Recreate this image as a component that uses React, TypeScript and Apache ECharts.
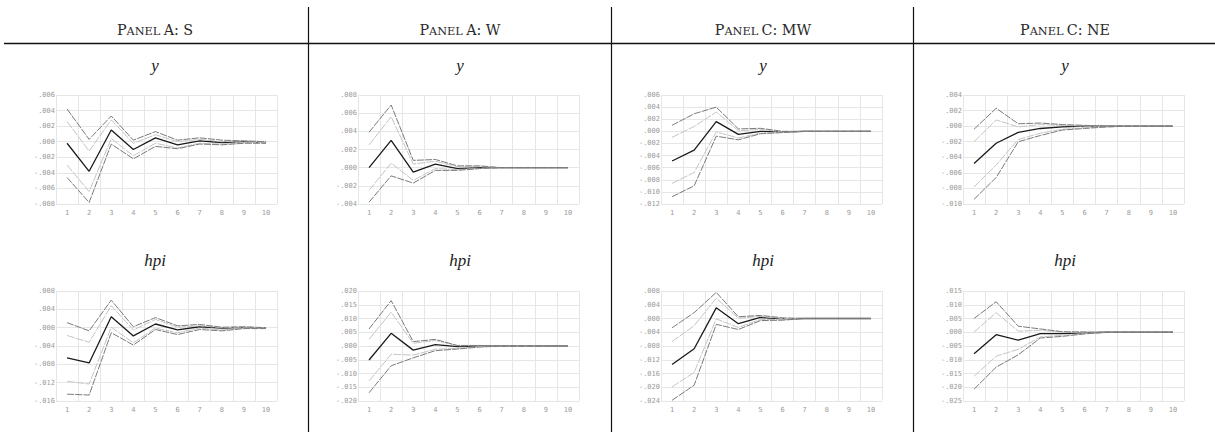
import React, { useEffect, useRef } from 'react';
import * as echarts from 'echarts';

// ---------- data ----------
const periods = ['1', '2', '3', '4', '5', '6', '7', '8', '9', '10'];
const panelNames = ['S', 'W', 'MW', 'NE'];
const panelLetters = ['A', 'A', 'C', 'C'];
const variables = ['y', 'hpi'];

// Panel A: S — y
const sYOuterHi = [0.0042, 0.0003, 0.0033, 0.0002, 0.0013, 0.0002, 0.0005, 0.0002, 0.0001, 0.0];
const sYInnerHi = [0.0026, -0.0012, 0.0028, -0.0002, 0.0009, 0.0, 0.0003, 0.0, 0.0001, 0.0];
const sYCenter = [-0.0002, -0.0038, 0.0015, -0.001, 0.0005, -0.0004, 0.0001, -0.0001, 0.0, -0.0001];
const sYInnerLo = [-0.003, -0.0064, 0.0004, -0.0018, -0.0002, -0.0008, -0.0002, -0.0003, -0.0001, -0.0001];
const sYOuterLo = [-0.0046, -0.0078, -0.0003, -0.0022, -0.0006, -0.0009, -0.0003, -0.0004, -0.0002, -0.0002];
// Panel A: S — hpi
const sHOuterHi = [0.0011, -0.0007, 0.006, 0.0002, 0.0022, 0.0004, 0.0007, 0.0001, 0.0002, 0.0];
const sHInnerHi = [-0.0017, -0.0032, 0.0048, -0.0005, 0.0018, 0.0001, 0.0004, 0.0, 0.0001, 0.0];
const sHCenter = [-0.0066, -0.0077, 0.0024, -0.0018, 0.0008, -0.0005, 0.0002, -0.0001, 0.0, 0.0];
const sHInnerLo = [-0.0117, -0.0123, 0.0001, -0.0033, -0.0001, -0.0011, -0.0001, -0.0005, -0.0001, -0.0001];
const sHOuterLo = [-0.0145, -0.0147, -0.0011, -0.0038, -0.0004, -0.0015, -0.0004, -0.0007, -0.0002, -0.0002];

// Panel A: W — y
const wYOuterHi = [0.0039, 0.0069, 0.0008, 0.0009, 0.0002, 0.0002, 0.0, 0.0, 0.0, 0.0];
const wYInnerHi = [0.0025, 0.0056, 0.0004, 0.0007, 0.0001, 0.0001, 0.0, 0.0, 0.0, 0.0];
const wYCenter = [0.0, 0.003, -0.0005, 0.0004, -0.0001, 0.0, 0.0, 0.0, 0.0, 0.0];
const wYInnerLo = [-0.0025, 0.0005, -0.0014, -0.0001, -0.0002, -0.0001, 0.0, 0.0, 0.0, 0.0];
const wYOuterLo = [-0.0038, -0.0009, -0.0017, -0.0003, -0.0003, -0.0001, 0.0, 0.0, 0.0, 0.0];
// Panel A: W — hpi
const wHOuterHi = [0.0062, 0.0165, 0.0016, 0.0024, 0.0002, 0.0002, 0.0, 0.0, 0.0, 0.0];
const wHInnerHi = [0.0024, 0.0123, 0.001, 0.002, 0.0001, 0.0001, 0.0, 0.0, 0.0, 0.0];
const wHCenter = [-0.0051, 0.0046, -0.0015, 0.0005, -0.0002, 0.0, 0.0, 0.0, 0.0, 0.0];
const wHInnerLo = [-0.0127, -0.003, -0.0033, -0.0012, -0.0009, -0.0002, 0.0, 0.0, 0.0, 0.0];
const wHOuterLo = [-0.017, -0.0072, -0.0043, -0.0017, -0.0011, -0.0004, 0.0, 0.0, 0.0, 0.0];

// Panel C: MW — y
const mYOuterHi = [0.001, 0.0029, 0.004, 0.0004, 0.0005, 0.0, 0.0, 0.0, 0.0, 0.0];
const mYInnerHi = [-0.001, 0.0008, 0.0032, 0.0001, 0.0003, -0.0001, 0.0, 0.0, 0.0, 0.0];
const mYCenter = [-0.0049, -0.0031, 0.0016, -0.0005, 0.0, -0.0001, 0.0, 0.0, 0.0, 0.0];
const mYInnerLo = [-0.0086, -0.0068, -0.0001, -0.0011, -0.0003, -0.0002, 0.0, 0.0, 0.0, 0.0];
const mYOuterLo = [-0.0108, -0.009, -0.0008, -0.0014, -0.0004, -0.0002, 0.0, 0.0, 0.0, 0.0];
// Panel C: MW — hpi
const mHOuterHi = [-0.0027, 0.0017, 0.0076, 0.0005, 0.0009, 0.0002, 0.0, 0.0, 0.0, 0.0];
const mHInnerHi = [-0.0067, -0.0021, 0.0059, 0.0001, 0.0006, 0.0, 0.0, 0.0, 0.0, 0.0];
const mHCenter = [-0.0134, -0.0088, 0.0031, -0.0015, 0.0003, -0.0001, 0.0, 0.0, 0.0, 0.0];
const mHInnerLo = [-0.0199, -0.0157, -0.0001, -0.0026, -0.0003, -0.0003, 0.0, 0.0, 0.0, 0.0];
const mHOuterLo = [-0.0238, -0.0194, -0.0017, -0.0032, -0.0006, -0.0005, 0.0, 0.0, 0.0, 0.0];

// Panel C: NE — y
const nYOuterHi = [-0.0004, 0.0023, 0.0003, 0.0004, 0.0002, 0.0001, 0.0, 0.0, 0.0, 0.0];
const nYInnerHi = [-0.002, 0.0008, -0.0001, 0.0002, 0.0001, 0.0, 0.0, 0.0, 0.0, 0.0];
const nYCenter = [-0.0048, -0.0022, -0.0008, -0.0003, -0.0001, 0.0, 0.0, 0.0, 0.0, 0.0];
const nYInnerLo = [-0.0078, -0.005, -0.0017, -0.0009, -0.0004, -0.0002, -0.0001, 0.0, 0.0, 0.0];
const nYOuterLo = [-0.0094, -0.0066, -0.002, -0.0012, -0.0005, -0.0003, -0.0001, 0.0, 0.0, 0.0];
// Panel C: NE — hpi
const nHOuterHi = [0.005, 0.0111, 0.0022, 0.0012, 0.0002, 0.0001, 0.0, 0.0, 0.0, 0.0];
const nHInnerHi = [0.0001, 0.0071, 0.0004, 0.0007, 0.0, 0.0, 0.0, 0.0, 0.0, 0.0];
const nHCenter = [-0.0078, -0.0009, -0.0029, -0.0005, -0.0005, -0.0002, 0.0, 0.0, 0.0, 0.0];
const nHInnerLo = [-0.016, -0.0087, -0.0062, -0.0017, -0.0011, -0.0005, 0.0, 0.0, 0.0, 0.0];
const nHOuterLo = [-0.0207, -0.0127, -0.0082, -0.0021, -0.0015, -0.0006, 0.0, 0.0, 0.0, 0.0];

// y-axis scales: [min, max, interval] per panel, for y and hpi
const yScales = [
  [-0.008, 0.006, 0.002],
  [-0.004, 0.008, 0.002],
  [-0.012, 0.006, 0.002],
  [-0.01, 0.004, 0.002],
];
const hpiScales = [
  [-0.016, 0.008, 0.004],
  [-0.02, 0.02, 0.005],
  [-0.024, 0.008, 0.004],
  [-0.025, 0.015, 0.005],
];

const subplotData = [
  [
    [sYOuterLo, sYInnerLo, sYCenter, sYInnerHi, sYOuterHi],
    [sHOuterLo, sHInnerLo, sHCenter, sHInnerHi, sHOuterHi],
  ],
  [
    [wYOuterLo, wYInnerLo, wYCenter, wYInnerHi, wYOuterHi],
    [wHOuterLo, wHInnerLo, wHCenter, wHInnerHi, wHOuterHi],
  ],
  [
    [mYOuterLo, mYInnerLo, mYCenter, mYInnerHi, mYOuterHi],
    [mHOuterLo, mHInnerLo, mHCenter, mHInnerHi, mHOuterHi],
  ],
  [
    [nYOuterLo, nYInnerLo, nYCenter, nYInnerHi, nYOuterHi],
    [nHOuterLo, nHInnerLo, nHCenter, nHInnerHi, nHOuterHi],
  ],
];

// ---------- layout ----------
const gridLefts = [56, 358, 661, 963];
const gridWidth = 221;
const gridTops = [95, 291];
const gridHeights = [109, 110];
const panelCenters = [155, 460, 763, 1065];
const dividerXs = [308.5, 611.5, 913.5];
const subtitleYs = [65, 260];

const gridColor = '#e6e6e6';
const labelColor = '#9a9a9a';
const monoFont = 'DejaVu Sans Mono';
const serifFont = "'Liberation Serif', 'Times New Roman', serif";

const fmt = (v: number) => {
  const s = Math.abs(v).toFixed(3).replace(/^0/, '');
  return (v < -1e-9 ? '-' : '') + s;
};

const bandStyles = [
  { color: '#7a7a7a', width: 1, type: [7, 1.2] },
  { color: '#c4c4c4', width: 1, type: [8, 1.2] },
  { color: '#1a1a1a', width: 1.3, type: 'solid' },
  { color: '#c4c4c4', width: 1, type: [8, 1.2] },
  { color: '#7a7a7a', width: 1, type: [7, 1.2] },
];
const bandZ = [4, 3, 2, 3, 4];

function buildOption() {
  const grid: any[] = [];
  const xAxis: any[] = [];
  const yAxis: any[] = [];
  const series: any[] = [];
  const graphic: any[] = [];

  for (let p = 0; p < 4; p++) {
    for (let v = 0; v < 2; v++) {
      const idx = grid.length;
      grid.push({
        left: gridLefts[p],
        top: gridTops[v],
        width: gridWidth,
        height: gridHeights[v],
        containLabel: false,
      });
      xAxis.push({
        type: 'category',
        gridIndex: idx,
        data: periods,
        boundaryGap: true,
        axisLine: { show: false },
        axisTick: { show: false },
        axisLabel: {
          interval: 0,
          fontSize: 7,
          color: labelColor,
          fontFamily: monoFont,
          margin: 5,
        },
        splitLine: { show: true, interval: 0, lineStyle: { color: gridColor, width: 1 } },
      });
      const sc = v === 0 ? yScales[p] : hpiScales[p];
      yAxis.push({
        type: 'value',
        gridIndex: idx,
        min: sc[0],
        max: sc[1],
        interval: sc[2],
        axisLine: { show: false },
        axisTick: { show: false },
        axisLabel: {
          formatter: fmt,
          fontSize: 7,
          color: labelColor,
          fontFamily: monoFont,
          margin: 1,
        },
        splitLine: { show: true, lineStyle: { color: gridColor, width: 1 } },
      });
      subplotData[p][v].forEach((arr, k) => {
        series.push({
          type: 'line',
          xAxisIndex: idx,
          yAxisIndex: idx,
          data: arr,
          symbol: 'none',
          showSymbol: false,
          z: bandZ[k],
          lineStyle: bandStyles[k],
          silent: true,
        });
      });
      graphic.push({
        type: 'text',
        x: panelCenters[p],
        y: subtitleYs[v],
        style: {
          text: variables[v],
          fontFamily: serifFont,
          fontStyle: 'italic',
          fontSize: 17,
          fill: '#222',
          align: 'center',
          verticalAlign: 'middle',
        },
      });
    }
    graphic.push({
      type: 'text',
      x: panelCenters[p],
      y: 28,
      style: {
        text: `{a|P}{b|ANEL} {a|${panelLetters[p]}: ${panelNames[p]}}`,
        rich: {
          a: { fontFamily: 'DejaVu Serif', fontSize: 14.3, fill: '#2a2a2a', verticalAlign: 'bottom', lineHeight: 17 },
          b: { fontFamily: 'DejaVu Serif', fontSize: 11.3, fill: '#2a2a2a', verticalAlign: 'bottom', lineHeight: 17 },
        },
        align: 'center',
        verticalAlign: 'middle',
      },
    });
  }

  dividerXs.forEach((x) => {
    graphic.push({
      type: 'line',
      shape: { x1: x, y1: 7, x2: x, y2: 432 },
      style: { stroke: '#111', lineWidth: 1.2 },
    });
  });
  graphic.push({
    type: 'line',
    shape: { x1: 4, y1: 43.5, x2: 1215, y2: 43.5 },
    style: { stroke: '#111', lineWidth: 1.4 },
  });

  return {
    animation: false,
    backgroundColor: '#ffffff',
    grid,
    xAxis,
    yAxis,
    series,
    graphic,
  };
}

export default function App() {
  const ref = useRef<HTMLDivElement>(null);
  useEffect(() => {
    document.body.style.margin = '0';
    const chart = echarts.init(ref.current as HTMLDivElement, null, { renderer: 'svg' });
    chart.setOption(buildOption() as any);
    return () => chart.dispose();
  }, []);
  return <div ref={ref} style={{ width: 1215, height: 434 }} />;
}
